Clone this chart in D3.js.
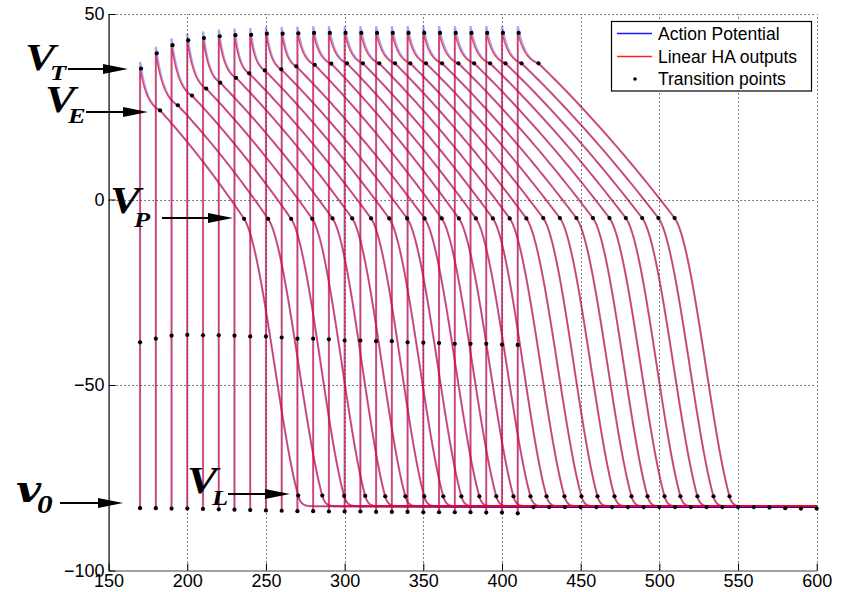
<!DOCTYPE html>
<html><head><meta charset="utf-8">
<script src="https://cdn.jsdelivr.net/npm/d3@7"></script>
<style>
html,body{margin:0;padding:0;background:#fff;}
svg{display:block;font-family:"Liberation Sans",Arial,sans-serif;}
</style></head><body>
<svg id="chart" width="843" height="592"></svg>
<script>
// Stimulus times (ms) of the 25 action potentials
const stimTimes = [170,180,190,200,210,220,230,240,250,260,270,280,290,300,310,320,330,340,350,360,370,380,390,400,410];
// Membrane potential (mV) where each upstroke begins
const startV = [-83.2,-83.2,-83.3,-83.3,-83.4,-83.5,-83.6,-83.7,-83.8,-83.9,-84.0,-84.0,-84.1,-84.1,-84.1,-84.2,-84.2,-84.2,-84.3,-84.3,-84.3,-84.3,-84.4,-84.4,-84.6];
// Mid-upstroke transition (mV)
const upV = [-38.5,-37.5,-36.7,-36.5,-36.6,-36.6,-36.7,-36.9,-36.9,-37.2,-37.5,-37.5,-37.7,-38.0,-38.0,-38.2,-38.2,-38.5,-38.6,-38.7,-38.9,-38.9,-38.9,-39.1,-39.2];
// Peak V_T (mV)
const peakV = [35.3,39.4,41.6,42.9,43.5,44.0,44.3,44.4,44.7,44.7,44.8,44.9,44.9,44.9,44.9,44.9,44.9,44.9,44.9,44.9,44.9,44.9,44.9,44.9,44.9];
// V_E transition: time (ms) and potential (mV)
const eTimes = [182.7,194.0,203.0,212.0,220.9,231.0,239.3,249.3,259.7,269.2,281.0,291.5,301.5,311.6,322.0,332.0,341.7,351.7,361.9,372.3,382.3,392.4,402.2,412.4,423.2];
const eV = [24.0,25.4,28.0,29.9,31.5,32.8,34.0,34.8,35.1,35.9,36.3,36.6,36.7,36.7,36.7,36.7,36.7,36.7,36.7,36.7,36.7,36.7,36.7,36.7,36.7];
// V_P transition: time (ms) and potential (mV)
const pTimes = [236.1,251.4,266.0,279.4,292.3,304.8,316.8,328.3,339.7,350.8,361.7,372.6,383.4,394.2,404.9,415.5,426.2,436.8,447.3,457.8,468.3,478.7,489.1,499.4,509.7];
const pV = [-5.2,-5.2,-5.2,-5.2,-5.1,-5.1,-5.1,-5.1,-5.1,-5.1,-5.1,-5.1,-5.1,-5.1,-5.1,-5.1,-5.0,-5.0,-5.0,-5.0,-5.0,-5.0,-5.0,-5.0,-5.0];
// V_L transition: time (ms) and potential (mV)
const lTimes = [270.5,285.8,299.7,313.1,325.8,338.6,350.6,362.7,374.2,385.6,396.4,407.3,418.1,428.3,439.7,450.5,460.7,471.5,482.3,492.5,503.3,513.4,524.2,534.4,544.6];
const lV = [-79.8,-79.8,-79.9,-79.9,-80.0,-80.0,-80.0,-80.0,-80.0,-80.0,-80.0,-80.0,-80.0,-80.0,-80.0,-80.0,-80.0,-80.0,-80.0,-80.0,-80.0,-80.0,-80.0,-80.0,-80.0];
// Resting potential reached after repolarisation (mV)
const restV = -82.7;
// Return-to-rest transition points
const restTimes = [420,430,440,450,460,470,480,490,500,510,520,530,540,550,560,570,580,590,600];
const restDotV = [-82.9,-82.9,-82.9,-82.9,-82.9,-82.9,-82.9,-82.9,-82.9,-82.9,-82.9,-82.9,-82.9,-82.9,-82.9,-83.0,-83.2,-83.3,-83.3];
// Axis ticks
const xTicks = [150,200,250,300,350,400,450,500,550,600];
const yTicks = [-100,-50,0,50];
const legendLabels = ["Action Potential","Linear HA outputs","Transition points"];

const svg = d3.select("#chart");
const x = d3.scaleLinear().domain([150,600]).range([108.6,816.7]);
const y = d3.scaleLinear().domain([-100,50]).range([570.5,14]);

// dotted grid
const grid = svg.append("g").attr("stroke","#000").attr("stroke-width",1).attr("stroke-dasharray","1,3");
xTicks.filter(d=>d>150).forEach(d=>{
  grid.append("line").attr("x1",Math.round(x(d))+0.5).attr("x2",Math.round(x(d))+0.5).attr("y1",y(-100)).attr("y2",y(50));
});
yTicks.filter(d=>d>-100).forEach(d=>{
  grid.append("line").attr("y1",Math.round(y(d))+0.5).attr("y2",Math.round(y(d))+0.5).attr("x1",x(150)).attr("x2",x(600));
});

// piecewise potential trace of one action potential
function trace(i, overshoot){
  const t0 = stimTimes[i];
  const top = peakV[i] + overshoot;
  const pts = [[t0,startV[i]],[t0,top]];
  const k = 2.5, dA = eTimes[i]-t0;
  for(let j=1;j<=30;j++){
    const s=j/30, f=(Math.exp(-k*s)-Math.exp(-k))/(1-Math.exp(-k));
    pts.push([t0+s*dA, eV[i]+(top-eV[i])*f]);
  }
  const dB = pTimes[i]-eTimes[i];
  for(let j=1;j<=40;j++){
    const s=j/40;
    pts.push([eTimes[i]+s*dB, eV[i]+(pV[i]-eV[i])*(0.85*s+0.15*s*s)]);
  }
  const m0 = 1.15*(pV[i]-eV[i])/dB;
  const m1 = -1.5;
  const tau = (lV[i]-restV)/-m1;
  const dC = lTimes[i]-pTimes[i];
  for(let j=1;j<=60;j++){
    const s=j/60, s2=s*s, s3=s2*s;
    const h00=2*s3-3*s2+1, h10=s3-2*s2+s, h01=-2*s3+3*s2, h11=s3-s2;
    pts.push([pTimes[i]+s*dC, h00*pV[i]+h10*dC*m0+h01*lV[i]+h11*dC*m1]);
  }
  for(let j=1;j<=40;j++){
    const dt=j*0.4;
    pts.push([lTimes[i]+dt, restV+(lV[i]-restV)*Math.exp(-dt/tau)]);
  }
  pts.push([600,restV]);
  return pts;
}

const line = d3.line().x(d=>x(d[0])).y(d=>y(d[1]));
const apG = svg.append("g").attr("fill","none");
stimTimes.forEach((t,i)=>{
  apG.append("path").attr("d",line(trace(i,1.8))).attr("stroke","#0000ff").attr("stroke-width",2.2).attr("stroke-opacity",0.35);
});
const haG = svg.append("g").attr("fill","none");
stimTimes.forEach((t,i)=>{
  haG.append("path").attr("d",line(trace(i,0))).attr("stroke","#ff0000").attr("stroke-width",1.5).attr("stroke-opacity",0.65);
});

// transition points
const dots = [];
stimTimes.forEach((t,i)=>{
  dots.push([t,startV[i]],[t,upV[i]],[t+0.6,peakV[i]],[eTimes[i],eV[i]],[pTimes[i],pV[i]],[lTimes[i],lV[i]]);
});
restTimes.forEach((t,i)=>dots.push([t,restDotV[i]]));
svg.append("g").selectAll("circle").data(dots).join("circle")
  .attr("cx",d=>x(d[0])).attr("cy",d=>y(d[1])).attr("r",2.1).attr("fill","#000");

// axes
const ax = svg.append("g").attr("transform",`translate(0,${y(-100)})`)
  .call(d3.axisBottom(x).tickValues(xTicks).tickSizeInner(-7).tickSizeOuter(0).tickPadding(4));
const ay = svg.append("g").attr("transform",`translate(${x(150)},0)`)
  .call(d3.axisLeft(y).tickValues(yTicks).tickSizeInner(-7).tickSizeOuter(0).tickPadding(4));
[ax,ay].forEach(a=>{
  a.selectAll("text").attr("font-size",18).attr("fill","#000").attr("font-family","'Liberation Sans',Arial,sans-serif");
  a.select(".domain").attr("stroke-width",1.2);
  a.selectAll(".tick line").attr("stroke","#000");
});
ay.select(".domain").attr("stroke","#000");
ax.select(".domain").attr("stroke","#444");

// legend
const lg = svg.append("g");
lg.append("rect").attr("x",611.5).attr("y",21.5).attr("width",200).attr("height",69.5).attr("fill","#fff").attr("stroke","#000").attr("stroke-width",1.2);
const rows=[33.5,56.5,79];
lg.append("line").attr("x1",617).attr("x2",652).attr("y1",rows[0]).attr("y2",rows[0]).attr("stroke","#1a1aff").attr("stroke-width",1.4);
lg.append("line").attr("x1",617).attr("x2",652).attr("y1",rows[1]).attr("y2",rows[1]).attr("stroke","#ff2020").attr("stroke-width",1.4);
lg.append("circle").attr("cx",635).attr("cy",rows[2]).attr("r",1.8).attr("fill","#000");
legendLabels.forEach((s,i)=>{
  lg.append("text").attr("x",658).attr("y",rows[i]+6).attr("font-size",17.5).attr("fill","#000").text(s);
});

// transition labels (symbol with subscript) and arrows
const ann = svg.append("g").attr("font-weight","bold").attr("font-style","italic").attr("fill","#000");
function symbol(main,sub,mx,my,sx,sy,mainSize,subSize,fam,subFam,stretch){
  const t = ann.append("text").attr("transform",`translate(${mx},${my}) scale(${stretch},1)`);
  t.append("tspan").attr("x",0).attr("y",0).attr("font-family",fam).attr("font-size",mainSize).text(main);
  t.append("tspan").attr("x",(sx-mx)/stretch).attr("y",sy-my).attr("font-family",subFam).attr("font-size",subSize).text(sub);
}
function arrow(x1,x2,yy,head){
  ann.append("line").attr("x1",x1).attr("x2",x2-head+2).attr("y1",yy).attr("y2",yy).attr("stroke","#000").attr("stroke-width",2);
  ann.append("path").attr("d",`M${x2-head},${yy-5}L${x2},${yy}L${x2-head},${yy+5}Z`).attr("fill","#000");
}
const serif = "'Liberation Serif','Times New Roman',serif";
const labels = [
  {main:"V",sub:"T",mx:25,my:70,sx:50,sy:80,ax1:68,ax2:128,ay:69},
  {main:"V",sub:"E",mx:45,my:112,sx:68,sy:123,ax1:86,ax2:148,ay:112},
  {main:"V",sub:"P",mx:110,my:213,sx:134,sy:227,ax1:162,ax2:233,ay:218},
  {main:"V",sub:"L",mx:187,my:493,sx:212,sy:505,ax1:228,ax2:290,ay:494}
];
labels.forEach(l=>{
  symbol(l.main,l.sub,l.mx,l.my,l.sx,l.sy,38,22,serif,serif,1.2);
  arrow(l.ax1,l.ax2,l.ay,25);
});
symbol("v","0",16,502,37,513,36,26,"'DejaVu Serif',serif",serif,1.2);
arrow(60,123,503,25);
</script>
</body></html>
